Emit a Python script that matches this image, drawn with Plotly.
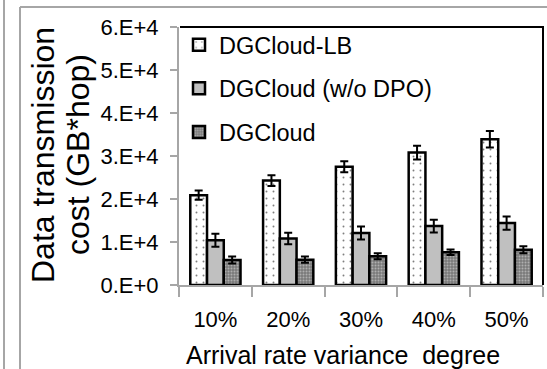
import plotly.graph_objects as go

categories = ["10%", "20%", "30%", "40%", "50%"]
series_names = ["DGCloud-LB", "DGCloud (w/o DPO)", "DGCloud"]
lb_values = [20900, 24300, 27500, 30800, 33900]
lb_errors = [1050, 1250, 1300, 1600, 1900]
nodpo_values = [10400, 10800, 12100, 13700, 14400]
nodpo_errors = [1500, 1350, 1500, 1500, 1550]
dg_values = [5800, 5900, 6700, 7600, 8200]
dg_errors = [800, 700, 700, 650, 800]
y_tick_values = [0, 10000, 20000, 30000, 40000, 50000, 60000]
y_tick_labels = ["0.E+0", "1.E+4", "2.E+4", "3.E+4", "4.E+4", "5.E+4", "6.E+4"]
x_title = "Arrival rate variance\u00a0 degree"
y_title_lines = ["Data transmission", "cost (GB*hop)"]

FONT = "Liberation Sans, Arial, sans-serif"
GRAY = "#a6a6a6"

fig = go.Figure()

styles = [
    dict(bgcolor="white", fgcolor="black", shape=".", size=7, solidity=0.06),
    None,
    dict(bgcolor="#7a7a7a", fgcolor="#e4e4e4", shape=".", size=3, solidity=0.35),
]
colors = ["white", "#c0c0c0", "#8c8c8c"]
vals = [lb_values, nodpo_values, dg_values]
errs = [lb_errors, nodpo_errors, dg_errors]

for i, name in enumerate(series_names):
    marker = dict(color=colors[i], line=dict(color="black", width=2.5))
    if styles[i] is not None:
        marker["pattern"] = styles[i]
    fig.add_trace(go.Bar(
        x=categories, y=vals[i], name=name, marker=marker,
        legendgroup=f"g{i}",
        error_y=dict(type="data", array=errs[i], visible=True,
                     color="black", thickness=2, width=4),
    ))

L, R, T, B = 179, 4, 27, 84
W, H = 547, 369
pw, ph = W - L - R, H - T - B

def px(x):
    return (x - L) / pw

def py(y):
    return (H - B - y) / ph

shapes = [
    dict(type="line", xref="paper", yref="paper", x0=px(4), x1=px(4), y0=py(0), y1=py(372),
         line=dict(color=GRAY, width=2)),
    dict(type="line", xref="paper", yref="paper", x0=px(20), x1=px(20), y0=py(7), y1=py(372),
         line=dict(color=GRAY, width=2)),
    dict(type="line", xref="paper", yref="paper", x0=px(20), x1=px(550), y0=py(7), y1=py(7),
         line=dict(color=GRAY, width=2)),
    dict(type="line", xref="paper", yref="paper", x0=px(180), x1=px(544), y0=1, y1=1,
         line=dict(color="black", width=2)),
    dict(type="line", xref="paper", yref="paper", x0=px(543), x1=px(543), y0=1, y1=0,
         line=dict(color="black", width=2)),
]

annotations = [
    dict(text=x_title, xref="paper", yref="paper", x=px(343), y=py(355),
         xanchor="center", yanchor="middle", showarrow=False,
         font=dict(size=25, family=FONT, color="black")),
]
for line_text, cx in zip(y_title_lines, [43, 78]):
    annotations.append(dict(text=line_text, xref="paper", yref="paper", x=px(cx), y=py(155),
                            xanchor="center", yanchor="middle", showarrow=False, textangle=-90,
                            font=dict(size=32, family=FONT, color="black")))

fig.update_layout(
    width=W, height=H,
    margin=dict(l=L, r=R, t=T, b=B),
    paper_bgcolor="white", plot_bgcolor="white",
    font=dict(family=FONT, color="black"),
    barmode="group", bargap=0.31, bargroupgap=0,
    showlegend=True,
    legend=dict(x=0.0, y=py(23), xanchor="left", yanchor="top",
                font=dict(size=23.5, family=FONT, color="black"),
                bgcolor="rgba(0,0,0,0)", borderwidth=0,
                tracegroupgap=10, itemwidth=30),
    shapes=shapes,
    annotations=annotations,
)

fig.update_xaxes(
    showline=True, linecolor=GRAY, linewidth=2,
    ticks="outside", tickson="boundaries", ticklen=10, tickcolor=GRAY, tickwidth=2,
    tickfont=dict(size=22, family=FONT, color="black"),
    ticklabelstandoff=14, showgrid=False, zeroline=False,
)
fig.update_yaxes(
    range=[0, 60000], tickvals=y_tick_values, ticktext=y_tick_labels,
    showline=True, linecolor=GRAY, linewidth=2,
    ticks="outside", ticklen=7, tickcolor=GRAY, tickwidth=2,
    tickfont=dict(size=22, family=FONT, color="black"),
    ticklabelstandoff=7, showgrid=False, zeroline=False,
)

fig.write_html("out.html", config={"displayModeBar": False},
               post_script="document.body.style.margin='0px';document.body.style.overflow='hidden';")
